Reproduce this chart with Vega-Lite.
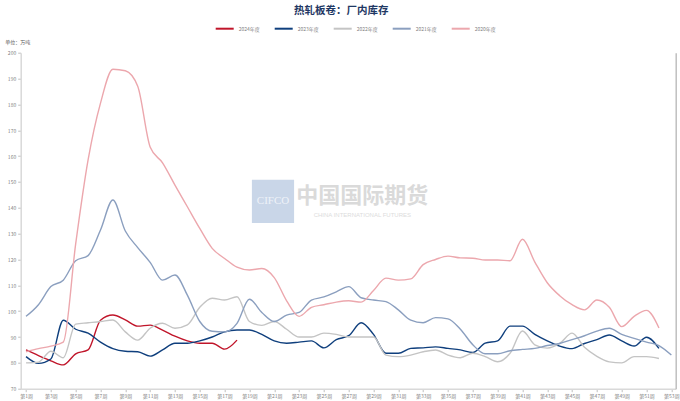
{
  "$schema": "https://vega.github.io/schema/vega-lite/v6.json",
  "width": 655,
  "height": 336,
  "autosize": {"type": "none"},
  "padding": {"left": 20.7, "top": 52.7, "right": 4.3, "bottom": 12.3},
  "background": "white",
  "config": {
    "font": "Noto Sans CJK SC",
    "view": {"stroke": null}
  },
  "title": {
    "text": "热轧板卷：厂内库存",
    "fontSize": 10.5,
    "fontWeight": "bold",
    "color": "#1f3864",
    "font": "Noto Sans CJK SC",
    "anchor": "middle",
    "frame": "group",
    "dx": -7,
    "offset": 2
  },
  "datasets": {
    "inv": [
      {"year": "2024年度", "week": 1, "v": 85}, {"year": "2024年度", "week": 2, "v": 82.8}, {"year": "2024年度", "week": 3, "v": 80.8}, {"year": "2024年度", "week": 4, "v": 79.2}, {"year": "2024年度", "week": 5, "v": 83.5}, {"year": "2024年度", "week": 6, "v": 85}, {"year": "2024年度", "week": 7, "v": 96.5}, {"year": "2024年度", "week": 8, "v": 98.5}, {"year": "2024年度", "week": 9, "v": 96.6}, {"year": "2024年度", "week": 10, "v": 94.2}, {"year": "2024年度", "week": 11, "v": 94.6}, {"year": "2024年度", "week": 12, "v": 92.7}, {"year": "2024年度", "week": 13, "v": 90.3}, {"year": "2024年度", "week": 14, "v": 88.5}, {"year": "2024年度", "week": 15, "v": 87.6}, {"year": "2024年度", "week": 16, "v": 87.6}, {"year": "2024年度", "week": 17, "v": 85.3}, {"year": "2024年度", "week": 18, "v": 88.8},

      {"year": "2023年度", "week": 1, "v": 82.4}, {"year": "2023年度", "week": 2, "v": 79.8}, {"year": "2023年度", "week": 3, "v": 81.5}, {"year": "2023年度", "week": 4, "v": 96.5}, {"year": "2023年度", "week": 5, "v": 93}, {"year": "2023年度", "week": 6, "v": 91.5}, {"year": "2023年度", "week": 7, "v": 88}, {"year": "2023年度", "week": 8, "v": 85.5}, {"year": "2023年度", "week": 9, "v": 84.5}, {"year": "2023年度", "week": 10, "v": 84.3}, {"year": "2023年度", "week": 11, "v": 82.6}, {"year": "2023年度", "week": 12, "v": 85}, {"year": "2023年度", "week": 13, "v": 87.6}, {"year": "2023年度", "week": 14, "v": 87.6}, {"year": "2023年度", "week": 15, "v": 88.5}, {"year": "2023年度", "week": 16, "v": 90}, {"year": "2023年度", "week": 17, "v": 92}, {"year": "2023年度", "week": 18, "v": 92.7}, {"year": "2023年度", "week": 19, "v": 92.7}, {"year": "2023年度", "week": 20, "v": 91}, {"year": "2023年度", "week": 21, "v": 88.5}, {"year": "2023年度", "week": 22, "v": 87.6}, {"year": "2023年度", "week": 23, "v": 88}, {"year": "2023年度", "week": 24, "v": 88.5}, {"year": "2023年度", "week": 25, "v": 85.8}, {"year": "2023年度", "week": 26, "v": 89}, {"year": "2023年度", "week": 27, "v": 90.5}, {"year": "2023年度", "week": 28, "v": 95.5}, {"year": "2023年度", "week": 29, "v": 91}, {"year": "2023年度", "week": 30, "v": 83.7}, {"year": "2023年度", "week": 31, "v": 83.7}, {"year": "2023年度", "week": 32, "v": 85.6}, {"year": "2023年度", "week": 33, "v": 85.8}, {"year": "2023年度", "week": 34, "v": 86.2}, {"year": "2023年度", "week": 35, "v": 85.6}, {"year": "2023年度", "week": 36, "v": 85}, {"year": "2023年度", "week": 37, "v": 84}, {"year": "2023年度", "week": 38, "v": 87.6}, {"year": "2023年度", "week": 39, "v": 88.5}, {"year": "2023年度", "week": 40, "v": 94.2}, {"year": "2023年度", "week": 41, "v": 94.2}, {"year": "2023年度", "week": 42, "v": 91}, {"year": "2023年度", "week": 43, "v": 88.5}, {"year": "2023年度", "week": 44, "v": 86.5}, {"year": "2023年度", "week": 45, "v": 85.5}, {"year": "2023年度", "week": 46, "v": 87.5}, {"year": "2023年度", "week": 47, "v": 89}, {"year": "2023年度", "week": 48, "v": 90.8}, {"year": "2023年度", "week": 49, "v": 88.5}, {"year": "2023年度", "week": 50, "v": 86.5}, {"year": "2023年度", "week": 51, "v": 89.9}, {"year": "2023年度", "week": 52, "v": 85.6},

      {"year": "2022年度", "week": 1, "v": 80}, {"year": "2022年度", "week": 2, "v": 80.3}, {"year": "2022年度", "week": 3, "v": 84.5}, {"year": "2022年度", "week": 4, "v": 82}, {"year": "2022年度", "week": 5, "v": 95}, {"year": "2022年度", "week": 6, "v": 95.5}, {"year": "2022年度", "week": 7, "v": 96}, {"year": "2022年度", "week": 8, "v": 96.6}, {"year": "2022年度", "week": 9, "v": 92}, {"year": "2022年度", "week": 10, "v": 88.8}, {"year": "2022年度", "week": 11, "v": 93.4}, {"year": "2022年度", "week": 12, "v": 95.3}, {"year": "2022年度", "week": 13, "v": 93.4}, {"year": "2022年度", "week": 14, "v": 94.7}, {"year": "2022年度", "week": 15, "v": 101.5}, {"year": "2022年度", "week": 16, "v": 105}, {"year": "2022年度", "week": 17, "v": 104.3}, {"year": "2022年度", "week": 18, "v": 105.6}, {"year": "2022年度", "week": 19, "v": 96}, {"year": "2022年度", "week": 20, "v": 94.5}, {"year": "2022年度", "week": 21, "v": 96}, {"year": "2022年度", "week": 22, "v": 93}, {"year": "2022年度", "week": 23, "v": 90}, {"year": "2022年度", "week": 24, "v": 90}, {"year": "2022年度", "week": 25, "v": 91.5}, {"year": "2022年度", "week": 26, "v": 91}, {"year": "2022年度", "week": 27, "v": 90}, {"year": "2022年度", "week": 28, "v": 90}, {"year": "2022年度", "week": 29, "v": 90}, {"year": "2022年度", "week": 30, "v": 83}, {"year": "2022年度", "week": 31, "v": 82.4}, {"year": "2022年度", "week": 32, "v": 83}, {"year": "2022年度", "week": 33, "v": 84.3}, {"year": "2022年度", "week": 34, "v": 85}, {"year": "2022年度", "week": 35, "v": 83}, {"year": "2022年度", "week": 36, "v": 82}, {"year": "2022年度", "week": 37, "v": 83.7}, {"year": "2022年度", "week": 38, "v": 82.4}, {"year": "2022年度", "week": 39, "v": 80.4}, {"year": "2022年度", "week": 40, "v": 83.7}, {"year": "2022年度", "week": 41, "v": 92.3}, {"year": "2022年度", "week": 42, "v": 87}, {"year": "2022年度", "week": 43, "v": 85.7}, {"year": "2022年度", "week": 44, "v": 87.5}, {"year": "2022年度", "week": 45, "v": 91.5}, {"year": "2022年度", "week": 46, "v": 86}, {"year": "2022年度", "week": 47, "v": 82.5}, {"year": "2022年度", "week": 48, "v": 80.4}, {"year": "2022年度", "week": 49, "v": 80}, {"year": "2022年度", "week": 50, "v": 82.4}, {"year": "2022年度", "week": 51, "v": 82.4}, {"year": "2022年度", "week": 52, "v": 81.7},

      {"year": "2021年度", "week": 1, "v": 98}, {"year": "2021年度", "week": 2, "v": 102.5}, {"year": "2021年度", "week": 3, "v": 109.5}, {"year": "2021年度", "week": 4, "v": 112}, {"year": "2021年度", "week": 5, "v": 119.5}, {"year": "2021年度", "week": 6, "v": 121.5}, {"year": "2021年度", "week": 7, "v": 131.4}, {"year": "2021年度", "week": 8, "v": 143}, {"year": "2021年度", "week": 9, "v": 131}, {"year": "2021年度", "week": 10, "v": 124.6}, {"year": "2021年度", "week": 11, "v": 118.9}, {"year": "2021年度", "week": 12, "v": 112}, {"year": "2021年度", "week": 13, "v": 114}, {"year": "2021年度", "week": 14, "v": 106.2}, {"year": "2021年度", "week": 15, "v": 96}, {"year": "2021年度", "week": 16, "v": 92.2}, {"year": "2021年度", "week": 17, "v": 92}, {"year": "2021年度", "week": 18, "v": 95.3}, {"year": "2021年度", "week": 19, "v": 104.6}, {"year": "2021年度", "week": 20, "v": 99.5}, {"year": "2021年度", "week": 21, "v": 96}, {"year": "2021年度", "week": 22, "v": 98.5}, {"year": "2021年度", "week": 23, "v": 99.5}, {"year": "2021年度", "week": 24, "v": 104.3}, {"year": "2021年度", "week": 25, "v": 105.5}, {"year": "2021年度", "week": 26, "v": 107.5}, {"year": "2021年度", "week": 27, "v": 109.5}, {"year": "2021年度", "week": 28, "v": 105.2}, {"year": "2021年度", "week": 29, "v": 104.3}, {"year": "2021年度", "week": 30, "v": 103.7}, {"year": "2021年度", "week": 31, "v": 100.5}, {"year": "2021年度", "week": 32, "v": 96.5}, {"year": "2021年度", "week": 33, "v": 95.5}, {"year": "2021年度", "week": 34, "v": 97.5}, {"year": "2021年度", "week": 35, "v": 97}, {"year": "2021年度", "week": 36, "v": 93}, {"year": "2021年度", "week": 37, "v": 87}, {"year": "2021年度", "week": 38, "v": 83.5}, {"year": "2021年度", "week": 39, "v": 83.5}, {"year": "2021年度", "week": 40, "v": 84.7}, {"year": "2021年度", "week": 41, "v": 85.2}, {"year": "2021年度", "week": 42, "v": 85.6}, {"year": "2021年度", "week": 43, "v": 86.7}, {"year": "2021年度", "week": 44, "v": 87.5}, {"year": "2021年度", "week": 45, "v": 89}, {"year": "2021年度", "week": 46, "v": 90.5}, {"year": "2021年度", "week": 47, "v": 92.3}, {"year": "2021年度", "week": 48, "v": 93.4}, {"year": "2021年度", "week": 49, "v": 91}, {"year": "2021年度", "week": 50, "v": 89.5}, {"year": "2021年度", "week": 51, "v": 88}, {"year": "2021年度", "week": 52, "v": 86.7}, {"year": "2021年度", "week": 53, "v": 83},

      {"year": "2020年度", "week": 1, "v": 84.3}, {"year": "2020年度", "week": 2, "v": 85.5}, {"year": "2020年度", "week": 3, "v": 86.5}, {"year": "2020年度", "week": 4, "v": 88}, {"year": "2020年度", "week": 5, "v": 126}, {"year": "2020年度", "week": 6, "v": 158.5}, {"year": "2020年度", "week": 7, "v": 180.5}, {"year": "2020年度", "week": 8, "v": 193.6}, {"year": "2020年度", "week": 9, "v": 193}, {"year": "2020年度", "week": 10, "v": 187}, {"year": "2020年度", "week": 11, "v": 163.5}, {"year": "2020年度", "week": 12, "v": 157.4}, {"year": "2020年度", "week": 13, "v": 148.8}, {"year": "2020年度", "week": 14, "v": 140.4}, {"year": "2020年度", "week": 15, "v": 132}, {"year": "2020年度", "week": 16, "v": 124.3}, {"year": "2020年度", "week": 17, "v": 120.4}, {"year": "2020年度", "week": 18, "v": 117}, {"year": "2020年度", "week": 19, "v": 115.9}, {"year": "2020年度", "week": 20, "v": 116.5}, {"year": "2020年度", "week": 21, "v": 113}, {"year": "2020年度", "week": 22, "v": 104}, {"year": "2020年度", "week": 23, "v": 98}, {"year": "2020年度", "week": 24, "v": 101.5}, {"year": "2020年度", "week": 25, "v": 102.5}, {"year": "2020年度", "week": 26, "v": 103.5}, {"year": "2020年度", "week": 27, "v": 104}, {"year": "2020年度", "week": 28, "v": 103.5}, {"year": "2020年度", "week": 29, "v": 108}, {"year": "2020年度", "week": 30, "v": 112.8}, {"year": "2020年度", "week": 31, "v": 112}, {"year": "2020年度", "week": 32, "v": 112.5}, {"year": "2020年度", "week": 33, "v": 118}, {"year": "2020年度", "week": 34, "v": 120}, {"year": "2020年度", "week": 35, "v": 121.3}, {"year": "2020年度", "week": 36, "v": 120.6}, {"year": "2020年度", "week": 37, "v": 120.5}, {"year": "2020年度", "week": 38, "v": 119.8}, {"year": "2020年度", "week": 39, "v": 119.8}, {"year": "2020年度", "week": 40, "v": 119.5}, {"year": "2020年度", "week": 41, "v": 127.8}, {"year": "2020年度", "week": 42, "v": 119}, {"year": "2020年度", "week": 43, "v": 111}, {"year": "2020年度", "week": 44, "v": 106}, {"year": "2020年度", "week": 45, "v": 102.5}, {"year": "2020年度", "week": 46, "v": 100.5}, {"year": "2020年度", "week": 47, "v": 104.3}, {"year": "2020年度", "week": 48, "v": 101.5}, {"year": "2020年度", "week": 49, "v": 94}, {"year": "2020年度", "week": 50, "v": 98}, {"year": "2020年度", "week": 51, "v": 100.3}, {"year": "2020年度", "week": 52, "v": 93.5}
    ],
    "one": [{}]
  },
  "resolve": {"axis": {"x": "independent", "y": "independent"}},
  "layer": [
    {
      "data": {"name": "one"},
      "mark": {"type": "rect", "color": "#c9d6e8"},
      "encoding": {
        "x": {"datum": 19.2, "type": "quantitative", "scale": {"domain": [0.57, 53.35], "nice": false, "zero": false}, "axis": null},
        "x2": {"datum": 22.6},
        "y": {"datum": 150.8, "type": "quantitative", "scale": {"domain": [70, 200], "nice": false, "zero": false}, "axis": null},
        "y2": {"datum": 134.1}
      }
    },
    {
      "data": {"name": "one"},
      "mark": {"type": "text", "text": "CIFCO", "font": "Liberation Serif", "fontSize": 11, "color": "#eef2f8", "align": "center", "baseline": "middle"},
      "encoding": {
        "x": {"datum": 20.9, "type": "quantitative", "axis": null},
        "y": {"datum": 142.6, "type": "quantitative", "axis": null}
      }
    },
    {
      "data": {"name": "one"},
      "mark": {"type": "text", "text": "中国国际期货", "font": "Noto Sans CJK SC", "fontWeight": "bold", "fontSize": 22, "color": "#dadada", "align": "center", "baseline": "middle"},
      "encoding": {
        "x": {"datum": 28.1, "type": "quantitative", "axis": null},
        "y": {"datum": 144.5, "type": "quantitative", "axis": null}
      }
    },
    {
      "data": {"name": "one"},
      "mark": {"type": "text", "text": "CHINA INTERNATIONAL FUTURES", "font": "Liberation Sans", "fontSize": 6, "letterSpacing": 1, "color": "#dcdcdc", "align": "center", "baseline": "middle"},
      "encoding": {
        "x": {"datum": 28.1, "type": "quantitative", "axis": null},
        "y": {"datum": 137.2, "type": "quantitative", "axis": null}
      }
    },
    {
      "data": {"name": "inv"},
      "mark": {"type": "line", "interpolate": "monotone", "strokeWidth": 1.4},
      "encoding": {
        "x": {
          "field": "week", "type": "quantitative",
          "axis": {
            "values": [1, 3, 5, 7, 9, 11, 13, 15, 17, 19, 21, 23, 25, 27, 29, 31, 33, 35, 37, 39, 41, 43, 45, 47, 49, 51, 53],
            "labelExpr": "'第' + datum.value + '周'",
            "title": null, "grid": false,
            "labelFontSize": 5, "labelColor": "#7f7f7f", "labelFlush": false, "labelOverlap": false,
            "labelPadding": 2, "tickSize": 3, "tickColor": "#bfbfbf",
            "domainColor": "#d9d9d9", "domainWidth": 1.5
          }
        },
        "y": {
          "field": "v", "type": "quantitative",
          "axis": {
            "values": [70, 80, 90, 100, 110, 120, 130, 140, 150, 160, 170, 180, 190, 200],
            "title": "单位：万吨", "titleAngle": 0, "titleX": -16, "titleY": -11,
            "titleAlign": "left", "titleBaseline": "middle", "titleFontSize": 5,
            "titleFontWeight": "normal", "titleColor": "#595959",
            "grid": false, "labelFontSize": 5, "labelColor": "#7f7f7f", "labelPadding": 2,
            "tickSize": 3, "tickColor": "#bfbfbf", "domainColor": "#d9d9d9", "domainWidth": 1.5
          }
        },
        "color": {
          "field": "year", "type": "nominal",
          "scale": {
            "domain": ["2024年度", "2023年度", "2022年度", "2021年度", "2020年度"],
            "range": ["#c0152a", "#0f3f7d", "#c4c4c4", "#8b9fbf", "#eca7ad"]
          },
          "legend": {
            "orient": "none", "legendX": 194, "legendY": -34, "direction": "horizontal",
            "title": null, "symbolType": "stroke", "symbolSize": 324, "symbolStrokeWidth": 2,
            "labelFontSize": 5, "labelColor": "#7f7f7f", "columnPadding": 10, "labelOffset": 4
          }
        }
      }
    },
    {
      "data": {"name": "one"},
      "mark": {"type": "rule", "strokeOpacity": 0},
      "encoding": {
        "y": {
          "datum": 70, "type": "quantitative",
          "axis": {"orient": "right", "labels": false, "ticks": false, "title": null, "grid": false, "domainColor": "#bfbfbf", "domainWidth": 1.5}
        }
      }
    }
  ]
}
